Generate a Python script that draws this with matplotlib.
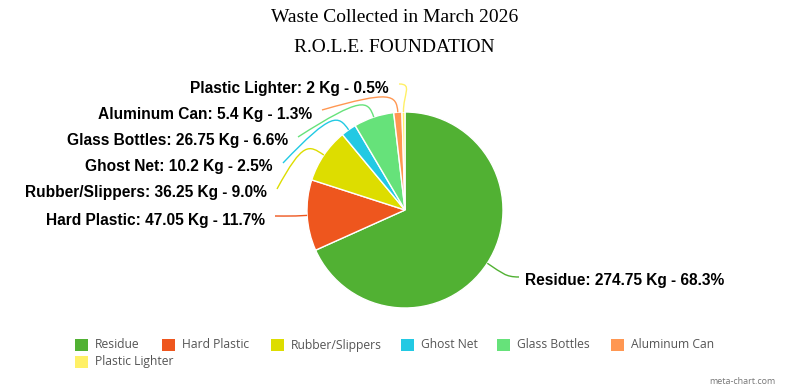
import matplotlib
matplotlib.use("Agg")
import matplotlib.pyplot as plt
import numpy as np
from matplotlib.path import Path
from matplotlib.patches import PathPatch, Rectangle

# data
categories = ['Residue', 'Hard Plastic', 'Rubber/Slippers', 'Ghost Net',
              'Glass Bottles', 'Aluminum Can', 'Plastic Lighter']
weights = [274.75, 47.05, 36.25, 10.2, 26.75, 5.4, 2]
colors = ['#51b133', '#ee561e', '#dddd00', '#22c9e3', '#66e27a', '#ff9752', '#fff066']

# layout (pixels, from top-left)
W, H = 789, 391
cx, cy, rad = 405, 210, 98
label_pos = [(525, 281), (265, 220), (267, 193), (273, 167),
             (288, 141), (312, 114), (389, 88)]
legend_x = [75, 162, 271, 401, 497, 611, 75]
legend_row = [0, 0, 0, 0, 0, 0, 1]


def fy(py):
    return H - py


fig = plt.figure(figsize=(W / 100, H / 100), dpi=100)
ax = fig.add_axes([0, 0, 1, 1])

wedges, _ = ax.pie(weights, colors=colors, startangle=90, counterclock=False,
                   center=(cx, fy(cy)), radius=rad,
                   wedgeprops=dict(edgecolor='white', linewidth=1))
# pie() resets the limits, so set them afterwards
ax.set_xlim(0, W)
ax.set_ylim(0, H)
ax.set_aspect('equal')
ax.axis('off')

total = sum(weights)
for w, name, val, col, (tx, ty) in zip(wedges, categories, weights, colors, label_pos):
    pct = val / total * 100
    txt = f'{name}: {val:g} Kg - {pct:.1f}%'
    ang = np.deg2rad((w.theta1 + w.theta2) / 2)
    d = np.array([np.cos(ang), np.sin(ang)])
    c = np.array([cx, fy(cy)])
    p0 = c + rad * d
    p1 = c + (rad + 18) * d
    right = tx > cx
    if right:
        p3 = np.array([tx - 6, fy(ty - 4)])
        p2 = p3 + np.array([-14, 0])
        ha = 'left'
    else:
        p3 = np.array([tx + 10, fy(ty - 4)])
        p2 = p1 + np.array([-6, 4]) if p1[1] > p3[1] else p3 + np.array([14, 0])
        ha = 'right'
    path = Path([p0, p1, p2, p3], [Path.MOVETO, Path.CURVE4, Path.CURVE4, Path.CURVE4])
    ax.add_patch(PathPatch(path, facecolor='none', edgecolor=col, lw=1))
    ax.text(tx, fy(ty), txt, ha=ha, va='center', fontsize=11.2, fontweight='bold',
            family='Liberation Sans', color='black')

# title
fig.text(0.5, 1 - 18 / H, 'Waste Collected in March 2026', ha='center', va='center',
         fontsize=14, family='Liberation Serif')
fig.text(0.5, 1 - 47 / H, 'R.O.L.E. FOUNDATION', ha='center', va='center',
         fontsize=14, family='Liberation Serif')

# legend
for name, col, lx, row in zip(categories, colors, legend_x, legend_row):
    ly = 345 + row * 17
    ax.add_patch(Rectangle((lx, fy(ly + 6)), 13, 12, facecolor=col, edgecolor='none'))
    ax.text(lx + 20, fy(ly), name, ha='left', va='center', fontsize=8.7,
            family='Open Sans', color='#555555')

fig.text(775 / W, 1 - 382 / H, 'meta-chart.com', ha='right', va='center',
         fontsize=6.5, family='Open Sans', color='#777777')

fig.savefig('out.png', dpi=100)
